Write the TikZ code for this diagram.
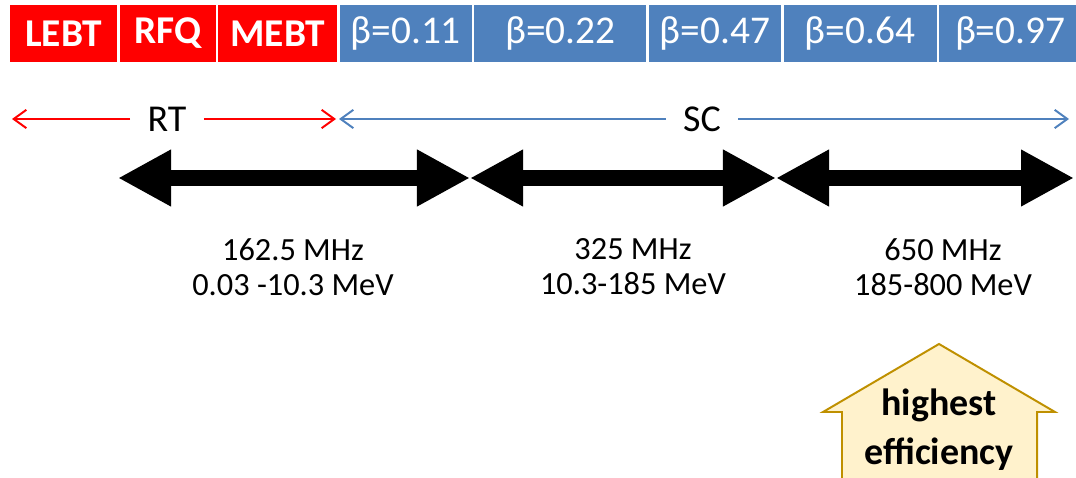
\documentclass[tikz,border=0pt]{standalone}
\usepackage{fontspec}
\setmainfont{Carlito}
\usetikzlibrary{positioning,arrows.meta}
\definecolor{ltred}{HTML}{FF0000}
\definecolor{ltblue}{HTML}{4F81BD}
\definecolor{effill}{HTML}{FFF2CC}
\definecolor{efdraw}{HTML}{BF9000}
\begin{document}
\begin{tikzpicture}[
            x=0.025cm,y=-0.025cm,
            node distance=0.05cm,
            sect/.style={rectangle,inner sep=0pt,minimum height=1.425cm,text=white,font=\fontsize{28}{32}\selectfont},
            rtsect/.style={sect,fill=ltred,font=\fontsize{28}{32}\selectfont\bfseries},
            scsect/.style={sect,fill=ltblue},
            region/.style={inner sep=0pt,minimum height=0.8cm,font=\fontsize{27}{32}\selectfont},
            span/.style={-{Straight Barb[length=9pt,width=13pt]},line width=1.4pt},
            bigarrow/.style={{Triangle[length=37.7pt,width=37.7pt]}-{Triangle[length=37.7pt,width=37.7pt]},line width=12pt},
            freq/.style={align=center,font=\fontsize{23}{25}\selectfont}
        ]
            \useasboundingbox (0,0) rectangle (1076,478);

            % linac sections
            \node[rtsect,minimum width=2.675cm] (lebt) at (63.5,33.5) {LEBT};
            \node[rtsect,minimum width=2.4cm,right=of lebt] (rfq) {RFQ};
            \node[rtsect,minimum width=2.975cm,right=of rfq] (mebt) {MEBT};
            \node[scsect,minimum width=3.3cm,right=of mebt] (b011) {β=0.11};
            \node[scsect,minimum width=4.3cm,right=of b011] (b022) {β=0.22};
            \node[scsect,minimum width=3.3cm,right=of b022] (b047) {β=0.47};
            \node[scsect,minimum width=3.825cm,right=of b047] (b064) {β=0.64};
            \node[scsect,minimum width=3.55cm,right=of b064] (b097) {β=0.97};

            % RT / SC
            \node[region,minimum width=1.825cm] (rt) at (167,119) {RT};
            \node[region,minimum width=1.8cm] (sc) at (702,119) {SC};
            \coordinate (rtl) at (12,119);
            \coordinate (rtr) at (336,119);
            \coordinate (scl) at (339,119);
            \coordinate (scr) at (1069,119);
            \draw[span,ltred] (rt) -- (rtl);
            \draw[span,ltred] (rt) -- (rtr);
            \draw[span,ltblue] (sc) -- (scl);
            \draw[span,ltblue] (sc) -- (scr);

            % frequency ranges
            \coordinate (a0) at (118,178);
            \coordinate (a1) at (470,178);
            \coordinate (a2) at (776,178);
            \coordinate (a3) at (1074,178);
            \draw[bigarrow] (a0) -- (a1);
            \draw[bigarrow] (a1) -- (a2);
            \draw[bigarrow] (a2) -- (a3);

            \node[freq] (f162) at (293,267) {162.5 MHz\\0.03 -10.3 MeV};
            \node[freq] (f325) at (633,267) {325 MHz\\10.3-185 MeV};
            \node[freq] (f650) at (943,267) {650 MHz\\185-800 MeV};

            % highest efficiency
            \draw[fill=effill,draw=efdraw,line width=1.4pt] (842,482) -- (842,412) -- (823,412) -- (939,344) -- (1055,412) -- (1037,412) -- (1037,482) -- cycle;
            \node[align=center,font=\fontsize{27}{35}\selectfont\bfseries] (eff) at (939,430) {highest\\efficiency};
        \end{tikzpicture}
\end{document}
